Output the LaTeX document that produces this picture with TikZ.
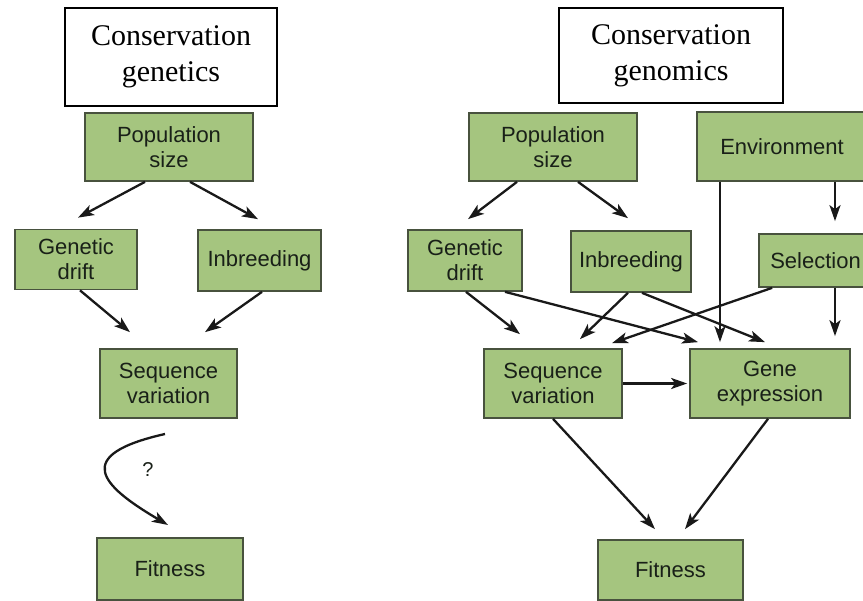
\documentclass[tikz,border=0pt]{standalone}
\usepackage{fontspec}
\setmainfont{Liberation Serif}
\setsansfont{Liberation Sans}
\usetikzlibrary{arrows.meta}
\definecolor{boxgreen}{RGB}{165,197,127}
\definecolor{boxedge}{RGB}{72,82,62}
\definecolor{boxtext}{RGB}{25,32,24}

\begin{document}
\begin{tikzpicture}[x=1pt,y=-1pt,
    gbox/.style={draw=boxedge, line width=1.7pt, fill=boxgreen, text=boxtext, align=center, inner sep=0pt, font=\sffamily\fontsize{22}{25}\selectfont},
    tbox/.style={draw=black, line width=1.8pt, fill=white, align=center, inner sep=0pt, font=\rmfamily\fontsize{30}{36}\selectfont},
    arr/.style={-{Stealth[length=16pt,width=11pt,inset=4pt]}, line width=2.3pt, black!90}]
    \clip (0,0) rectangle (863,601);

    % Left: conservation genetics
    \node[tbox, minimum width=212pt, minimum height=98pt] (titleL) at (171,57) {Conservation\\genetics};
    \node[gbox, minimum width=168pt, minimum height=68pt] (popL) at (169,147) {Population\\size};
    \node[gbox, minimum width=122pt, minimum height=60pt] (driftL) at (76,259.5) {Genetic\\drift};
    \node[gbox, minimum width=123pt, minimum height=61pt] (inbrL) at (259.5,260.5) {Inbreeding};
    \node[gbox, minimum width=137pt, minimum height=69pt] (seqL) at (168.5,383.5) {Sequence\\variation};
    \node[gbox, minimum width=146pt, minimum height=62pt] (fitL) at (170,569) {Fitness};
    \coordinate (qa) at (165,434);
    \coordinate (qb) at (168,525);

    \draw[arr] ([xshift=-24pt]popL.south) -- ([xshift=2pt,yshift=11pt]driftL.north);
    \draw[arr] ([xshift=21pt]popL.south) -- ([xshift=-1.5pt,yshift=10pt]inbrL.north);
    \draw[arr] ([xshift=4pt]driftL.south) -- ([xshift=-38.5pt,yshift=16pt]seqL.north);
    \draw[arr] ([xshift=2.5pt]inbrL.south) -- ([xshift=36.5pt,yshift=16pt]seqL.north);
    \draw[arr] (qa) .. controls (72,455) and (100,485) .. (qb);
    \node[font=\sffamily\fontsize{20}{22}\selectfont, text=boxtext] (qm) at (148,470) {?};

    % Right: conservation genomics
    \node[tbox, minimum width=224pt, minimum height=95pt] (titleR) at (671,55.5) {Conservation\\genomics};
    \node[gbox, minimum width=168pt, minimum height=68pt] (popR) at (553,147) {Population\\size};
    \node[gbox, minimum width=170pt, minimum height=69pt] (env) at (782,146.5) {Environment};
    \node[gbox, minimum width=114pt, minimum height=61pt] (driftR) at (465,260.5) {Genetic\\drift};
    \node[gbox, minimum width=120pt, minimum height=61pt] (inbrR) at (631,261.5) {Inbreeding};
    \node[gbox, minimum width=113pt, minimum height=53pt] (sel) at (815.5,260.5) {Selection};
    \node[gbox, minimum width=138pt, minimum height=69pt] (seqR) at (553,383.5) {Sequence\\variation};
    \node[gbox, minimum width=160pt, minimum height=69pt] (gene) at (770,383.5) {Gene\\expression};
    \node[gbox, minimum width=145pt, minimum height=60pt] (fitR) at (670.5,570) {Fitness};

    \draw[arr] ([xshift=-36pt]popR.south) -- ([xshift=3pt,yshift=10pt]driftR.north);
    \draw[arr] ([xshift=25pt]popR.south) -- ([xshift=-3pt,yshift=12pt]inbrR.north);
    \draw[arr] ([xshift=1pt]driftR.south) -- ([xshift=-33pt,yshift=14pt]seqR.north);
    \draw[arr] ([xshift=40pt]driftR.south) -- ([xshift=-72pt,yshift=6pt]gene.north);
    \draw[arr] ([xshift=-3pt]inbrR.south) -- ([xshift=27pt,yshift=9pt]seqR.north);
    \draw[arr] ([xshift=11pt]inbrR.south) -- ([xshift=-5pt,yshift=6pt]gene.north);
    \draw[arr] ([xshift=14pt]sel.south west) -- ([xshift=59pt,yshift=5pt]seqR.north);
    \draw[arr] ([xshift=-50pt]gene.north |- env.south) -- ([xshift=-50pt,yshift=6pt]gene.north);
    \draw[arr] ([xshift=53pt]env.south) -- ([xshift=19.5pt,yshift=12pt]sel.north);
    \draw[arr] ([xshift=19.5pt]sel.south) -- ([xshift=65pt,yshift=12pt]gene.north);
    \draw[arr] (seqR.east) -- ([xshift=-2pt]gene.west);
    \draw[arr] (seqR.south) -- ([xshift=-15.5pt,yshift=10pt]fitR.north);
    \draw[arr] ([xshift=-2pt]gene.south) -- ([xshift=14.5pt,yshift=10pt]fitR.north);
\end{tikzpicture}
\end{document}
